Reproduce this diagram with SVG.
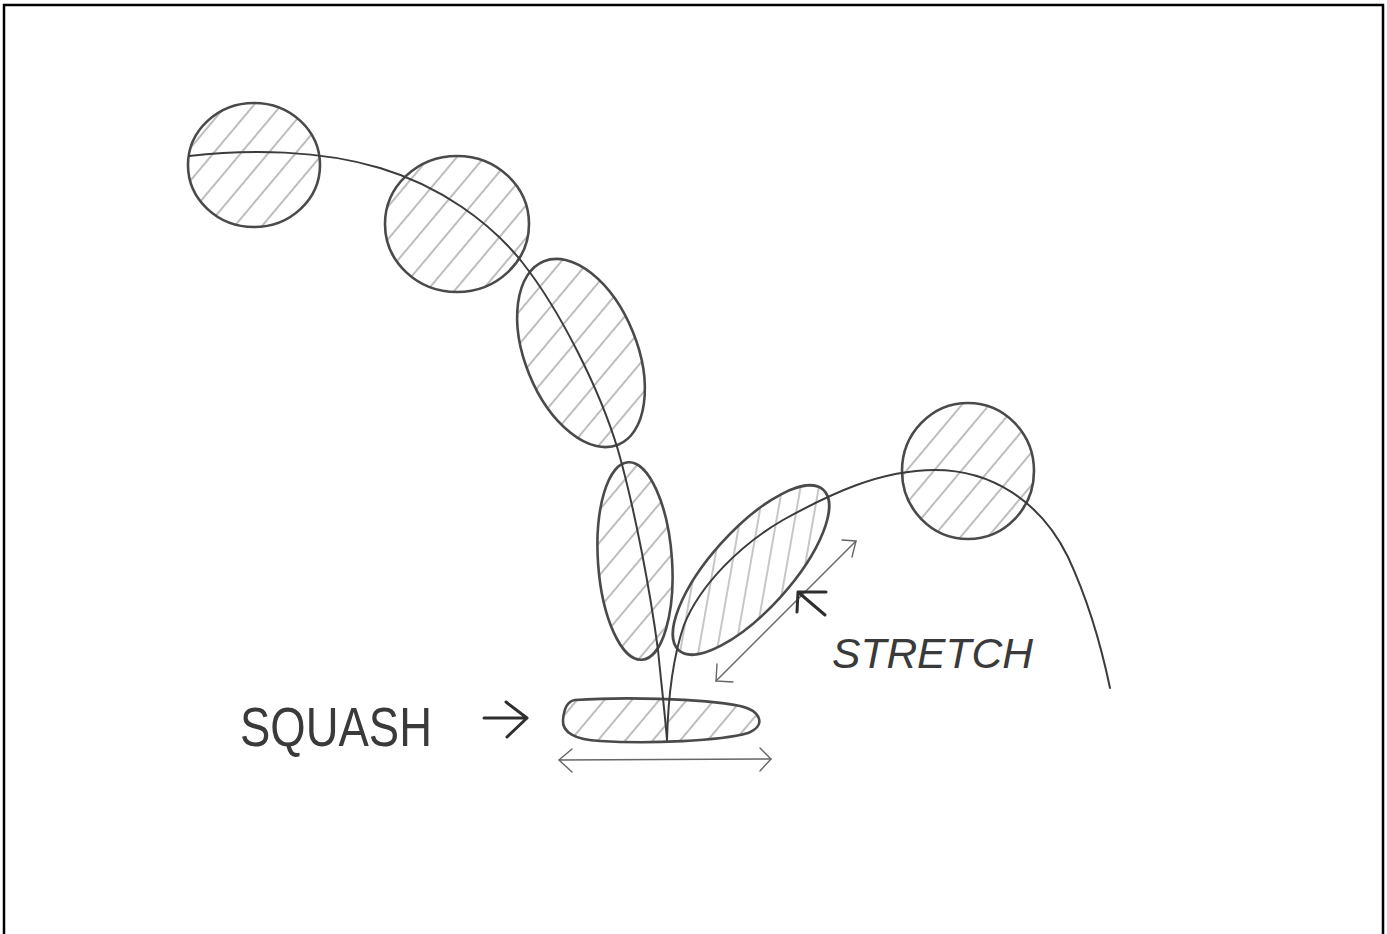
<svg xmlns="http://www.w3.org/2000/svg" width="1387" height="934" viewBox="0 0 1387 934">
  <style>
    .outline { fill: none; stroke: #4a4a4a; stroke-width: 2.6; }
    .hatchA { fill: url(#hatchDiag); stroke: none; }
    .hatchB { fill: url(#hatchSteep); stroke: none; }
    .path { fill: none; stroke: #3c3c3c; stroke-width: 2; stroke-linecap: round; }
    .thin { fill: none; stroke: #666; stroke-width: 1.4; stroke-linecap: round; stroke-linejoin: round; }
    .pointer { fill: none; stroke: #2e2e2e; stroke-width: 3; stroke-linecap: round; stroke-linejoin: round; }
    .label { font-family: "Liberation Sans", "DejaVu Sans", sans-serif; fill: #3a3a3a; }
  </style>
  <defs>
    <pattern id="hatchDiag" patternUnits="userSpaceOnUse" width="21" height="21" patternTransform="rotate(40)">
      <line x1="10" y1="0" x2="10" y2="21" stroke="#9a9a9a" stroke-width="1.3"/>
    </pattern>
    <pattern id="hatchSteep" patternUnits="userSpaceOnUse" width="18" height="18" patternTransform="rotate(10)">
      <line x1="9" y1="0" x2="9" y2="18" stroke="#a8a8a8" stroke-width="1.3"/>
    </pattern>
    <clipPath id="clip-ball-3">
      <ellipse cx="581" cy="353" rx="56" ry="99" transform="rotate(-22 581 353)"/>
    </clipPath>
    <clipPath id="clip-ball-4">
      <ellipse cx="635" cy="561" rx="37" ry="99" transform="rotate(-4 635 561)"/>
    </clipPath>
    <clipPath id="clip-ball-stretch">
      <ellipse cx="751" cy="570" rx="108" ry="40" transform="rotate(-48 751 570)"/>
    </clipPath>
  </defs>

  <!-- frame -->
  <path d="M 4,940 L 4,5 L 1383,5 L 1383,940" fill="none" stroke="#000" stroke-width="2.5"/>

  <!-- ball positions -->
  <g id="ball-1">
    <ellipse class="hatchA" cx="254" cy="165" rx="66" ry="62"/>
    <ellipse class="outline" cx="254" cy="165" rx="66" ry="62"/>
  </g>
  <g id="ball-2">
    <ellipse class="hatchA" cx="457" cy="224" rx="72" ry="68"/>
    <ellipse class="outline" cx="457" cy="224" rx="72" ry="68"/>
  </g>
  <g id="ball-3">
    <rect class="hatchA" x="500" y="240" width="170" height="220" clip-path="url(#clip-ball-3)"/>
    <ellipse class="outline" cx="581" cy="353" rx="56" ry="99" transform="rotate(-22 581 353)"/>
  </g>
  <g id="ball-4">
    <rect class="hatchA" x="590" y="455" width="90" height="215" clip-path="url(#clip-ball-4)"/>
    <ellipse class="outline" cx="635" cy="561" rx="37" ry="99" transform="rotate(-4 635 561)"/>
  </g>
  <g id="ball-squash">
    <path class="hatchA" d="M 575,700 C 620,697 700,698 740,706 C 762,711 766,726 748,733 C 720,741 650,744 600,741 C 575,740 562,732 563,720 C 564,707 568,701 575,700 Z"/>
    <path class="outline" d="M 575,700 C 620,697 700,698 740,706 C 762,711 766,726 748,733 C 720,741 650,744 600,741 C 575,740 562,732 563,720 C 564,707 568,701 575,700 Z"/>
  </g>
  <g id="ball-stretch">
    <rect class="hatchB" x="665" y="475" width="175" height="195" clip-path="url(#clip-ball-stretch)"/>
    <ellipse class="outline" cx="751" cy="570" rx="108" ry="40" transform="rotate(-48 751 570)"/>
  </g>
  <g id="ball-5">
    <ellipse class="hatchA" cx="968" cy="471" rx="66" ry="68"/>
    <ellipse class="outline" cx="968" cy="471" rx="66" ry="68"/>
  </g>

  <!-- trajectory and markers -->
  <g id="connectors">
    <path class="path" d="M 189,156 C 250,149 320,150 380,168 C 440,186 490,222 522,262 C 560,310 600,390 618,450 C 635,510 650,590 658,650 C 662,690 665,715 667,740"/>
    <path class="path" d="M 667,740 C 668,700 672,660 684,625 C 700,585 740,545 783,520 C 830,494 880,470 935,470 C 990,470 1040,500 1068,557 C 1088,600 1100,640 1110,688"/>

    <!-- stretch length arrow -->
    <path class="thin" d="M 716,681 L 856,541"/>
    <path class="thin" d="M 717,664 L 716,681 L 733,682"/>
    <path class="thin" d="M 842,540 L 856,541 L 852,557"/>

    <!-- squash width arrow -->
    <path class="thin" d="M 559,760 L 771,759" stroke="#888"/>
    <path class="thin" d="M 572,749 L 559,760 L 572,772"/>
    <path class="thin" d="M 760,748 L 771,759 L 760,771"/>

    <!-- label pointers -->
    <path class="pointer" d="M 484,718 L 527,718 M 506,702 L 527,718 L 507,737"/>
    <path class="pointer" d="M 825,615 L 798,592 L 826,592 M 798,592 L 797,612"/>
  </g>

  <text class="label" x="240" y="746" font-size="56" textLength="192" lengthAdjust="spacingAndGlyphs">SQUASH</text>
  <text class="label" x="832" y="668" font-size="42" font-style="italic" textLength="201" lengthAdjust="spacingAndGlyphs">STRETCH</text>
</svg>
